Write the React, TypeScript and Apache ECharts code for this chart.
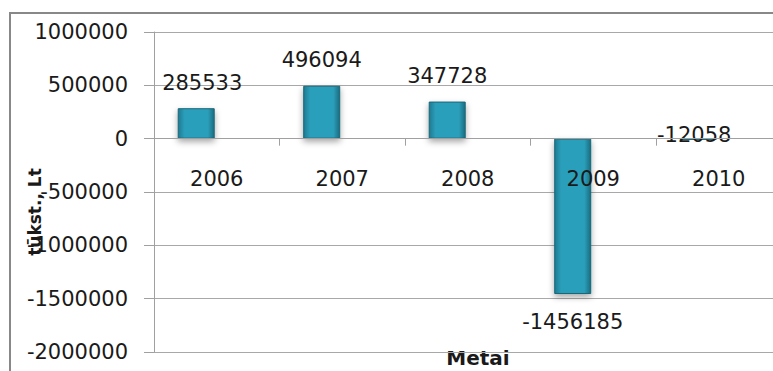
import React, { useEffect, useRef } from "react";
import * as echarts from "echarts";

const categories = ["2006", "2007", "2008", "2009", "2010"];
const values = [285533, 496094, 347728, -1456185, -12058];
const yMin = -2000000;
const yMax = 1000000;
const yStep = 500000;
const xTitle = "Metai";
const yTitle = "tūkst., Lt";

const FONT = "DejaVu Sans";

export default function App() {
  const ref = useRef<HTMLDivElement>(null);
  useEffect(() => {
    if (!ref.current) return;
    const chart = echarts.init(ref.current, null, { renderer: "svg" });
    const barColor = new echarts.graphic.LinearGradient(0, 0, 1, 0, [
      { offset: 0, color: "#1d7a91" },
      { offset: 0.18, color: "#2c9fbb" },
      { offset: 0.82, color: "#2c9fbb" },
      { offset: 1, color: "#1a6c80" },
    ]);
    const labelFor = (v: number, i: number) => {
      if (v >= 0) {
        return {
          show: true,
          position: "top",
          distance: 15,
          offset: i === 0 ? [6, 0] : [0, 0],
        };
      }
      if (v < -100000) {
        return { show: true, position: "bottom", distance: 18 };
      }
      return { show: true, position: "top", distance: -7, offset: [-4, 0] };
    };
    const gridTop = 32;
    const gridBottomY = 352;
    const gridH = gridBottomY - gridTop;
    const zeroY = gridTop + (gridH * yMax) / (yMax - yMin);
    chart.setOption({
      animation: false,
      textStyle: { fontFamily: FONT },
      grid: {
        left: 154,
        right: -8.5,
        top: gridTop,
        bottom: 371 - gridBottomY,
        containLabel: false,
        outerBoundsMode: "none",
      },
      xAxis: {
        type: "category",
        data: categories,
        position: "bottom",
        offset: -(gridBottomY - zeroY),
        z: 5,
        axisLine: { show: true, onZero: false, lineStyle: { color: "#a0a0a0", width: 1 } },
        axisTick: { show: true, length: 7, lineStyle: { color: "#a0a0a0" } },
        axisLabel: { margin: 30, fontSize: 21, color: "#1a1a1a", fontFamily: FONT },
        splitLine: { show: false },
      },
      yAxis: {
        type: "value",
        min: yMin,
        max: yMax,
        interval: yStep,
        axisLine: { show: true, lineStyle: { color: "#a0a0a0", width: 1 } },
        axisTick: { show: true, length: 10, lineStyle: { color: "#a0a0a0" } },
        axisLabel: {
          margin: 26,
          fontSize: 21,
          color: "#1a1a1a",
          fontFamily: FONT,
          formatter: (v: number) => String(v),
        },
        splitLine: { show: true, lineStyle: { color: "#a8a8a8", width: 1 } },
      },
      series: [
        {
          type: "bar",
          barWidth: 37,
          barGap: "11%",
          data: values.map((v, i) => ({ value: v, label: labelFor(v, i) })),
          itemStyle: {
            color: barColor,
            borderColor: "#1b6678",
            borderWidth: 1,
            shadowColor: "rgba(0,0,0,0.35)",
            shadowBlur: 6,
            shadowOffsetY: 3,
          },
          label: { fontSize: 21, color: "#1a1a1a", fontFamily: FONT },
        },
        {
          type: "bar",
          barWidth: 37,
          data: values.map(() => null),
        },
      ],
      graphic: [
        {
          type: "rect",
          shape: { x: 10, y: 13, width: 800, height: 400 },
          style: { fill: "none", stroke: "#888888", lineWidth: 2 },
          silent: true,
        },
        {
          type: "text",
          x: 478,
          y: 358,
          style: {
            text: xTitle,
            font: `bold 20px '${FONT}'`,
            fill: "#1a1a1a",
            align: "center",
            verticalAlign: "middle",
          },
        },
        {
          type: "text",
          x: 35,
          y: 212,
          rotation: Math.PI / 2,
          style: {
            text: yTitle,
            font: `bold 17px '${FONT}'`,
            fill: "#1a1a1a",
            align: "center",
            verticalAlign: "middle",
          },
        },
      ],
    });
    return () => chart.dispose();
  }, []);
  return (
    <div
      ref={ref}
      style={{ position: "fixed", left: 0, top: 0, width: 773, height: 371, background: "#fff" }}
    />
  );
}
